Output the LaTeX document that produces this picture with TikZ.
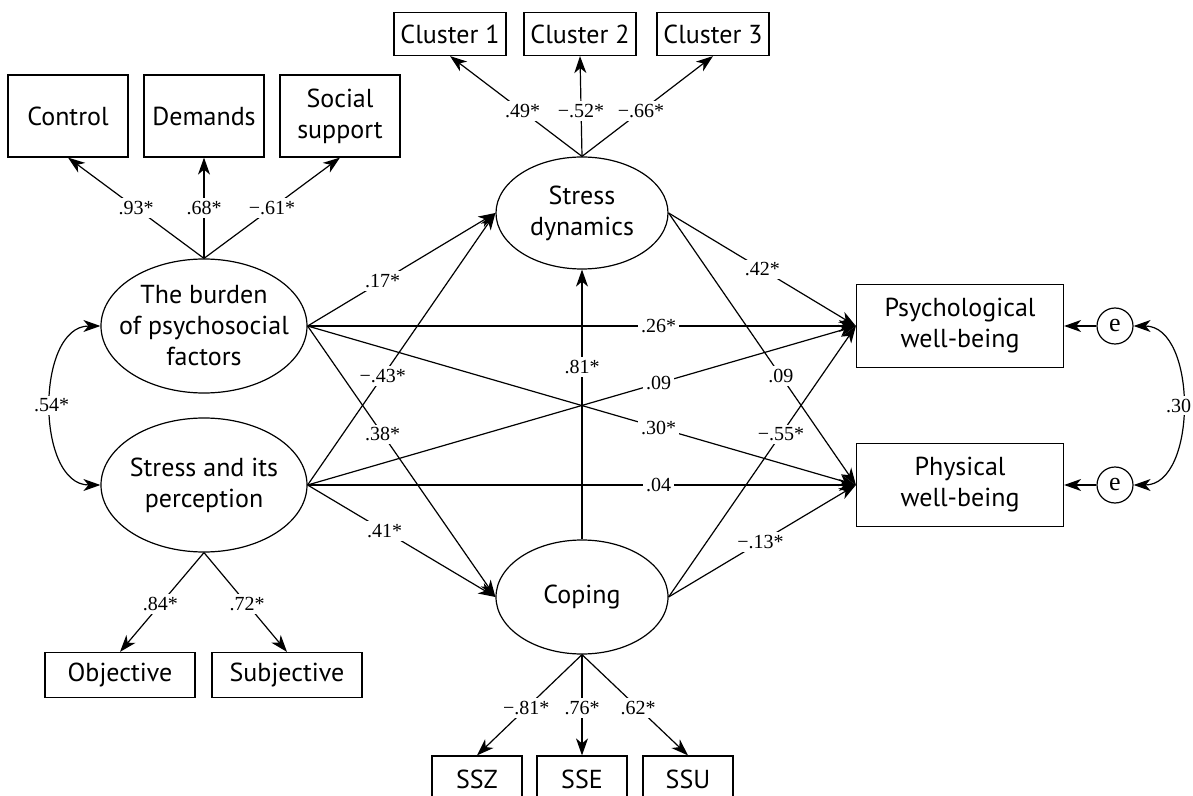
\documentclass[tikz,border=0pt]{standalone}
\usepackage{fontspec}
\setmainfont{PT Sans}
\newfontfamily\numfont{Liberation Serif}
\usetikzlibrary{shapes.geometric,arrows.meta}

\begin{document}
\begin{tikzpicture}[x=0.5pt,y=-0.5pt,line width=0.6pt,
		>={Stealth[length=8.5pt,width=6pt,inset=2.5pt]},
		obs/.style={draw,rectangle,align=center,inner sep=0pt,font=\fontsize{13}{15.5}\selectfont},
		lat/.style={draw,ellipse,align=center,inner sep=-20pt,font=\fontsize{13}{15.5}\selectfont},
		res/.style={draw,circle,minimum size=18pt,inner sep=0pt,font=\numfont\fontsize{13}{13}\selectfont},
		coef/.style={fill=white,inner sep=1.5pt,font=\numfont\fontsize{10}{10}\selectfont}]
		\useasboundingbox (0,0) rectangle (1193,796);

		% indicators
		\node (control) [obs,minimum width=60pt,minimum height=41pt] at (68,116) {Control};
		\node (demands) [obs,minimum width=60pt,minimum height=41pt] at (204,116) {Demands};
		\node (social) [obs,minimum width=60pt,minimum height=41pt] at (340,116) {Social\\support};
		\node (objective) [obs,minimum width=75pt,minimum height=22.5pt] at (120,675) {Objective};
		\node (subjective) [obs,minimum width=75pt,minimum height=22.5pt] at (287,675) {Subjective};
		\node (cl1) [obs,minimum width=56pt,minimum height=21.5pt] at (450,34) {Cluster 1};
		\node (cl2) [obs,minimum width=56pt,minimum height=21.5pt] at (580,34) {Cluster 2};
		\node (cl3) [obs,minimum width=56pt,minimum height=21.5pt] at (713,34) {Cluster 3};
		\node (ssz) [obs,minimum width=45pt,minimum height=23pt] at (477,779) {SSZ};
		\node (sse) [obs,minimum width=45pt,minimum height=23pt] at (582,779) {SSE};
		\node (ssu) [obs,minimum width=45pt,minimum height=23pt] at (688,779) {SSU};

		% latent variables
		\node (burden) [lat,minimum width=103pt,minimum height=67pt] at (204,326) {The burden\\of psychosocial\\factors};
		\node (stress) [lat,minimum width=103pt,minimum height=67pt] at (204,485) {Stress and its\\perception};
		\node (sd) [lat,minimum width=86pt,minimum height=56pt] at (582,213) {Stress\\dynamics};
		\node (coping) [lat,minimum width=86pt,minimum height=57pt] at (582,597) {Coping};

		% outcomes
		\node (psy) [obs,minimum width=103.5pt,minimum height=41.5pt] at (960,326) {Psychological\\well-being};
		\node (phy) [obs,minimum width=103.5pt,minimum height=41.5pt] at (960,485) {Physical\\well-being};
		\node (e1) [res] at (1115,326) {e};
		\node (e2) [res] at (1115,485) {e};

		% loadings
		\draw [->] (burden.north)--(control.south) node[coef,pos=.5] {.93*};
		\draw [->] (burden.north)--(demands.south) node[coef,pos=.5] {.68*};
		\draw [->] (burden.north)--(social.south) node[coef,pos=.5] {−.61*};
		\draw [->] (stress.south)--(objective.north) node[coef,pos=.52] {.84*};
		\draw [->] (stress.south)--(subjective.north) node[coef,pos=.52] {.72*};
		\draw [->] (sd.north)--(cl1.south) node[coef,pos=.45] {.49*};
		\draw [->] (sd.north)--(cl2.south) node[coef,pos=.45] {−.52*};
		\draw [->] (sd.north)--(cl3.south) node[coef,pos=.45] {−.66*};
		\draw [->] (coping.south)--(ssz.north) node[coef,pos=.53] {−.81*};
		\draw [->] (coping.south)--(sse.north) node[coef,pos=.53] {.76*};
		\draw [->] (coping.south)--(ssu.north) node[coef,pos=.53] {.62*};

		% structural paths
		\draw [->] (burden.east)--(sd.west) node[coef,pos=.4] {.17*};
		\draw [->] (burden.east)--(psy.west) node[coef,pos=.64] {.26*};
		\draw [->] (burden.east)--(phy.west) node[coef,pos=.64] {.30*};
		\draw [->] (burden.east)--(coping.west) node[coef,pos=.4] {.38*};
		\draw [->] (stress.east)--(sd.west) node[coef,pos=.4] {−.43*};
		\draw [->] (stress.east)--(psy.west) node[coef,pos=.64] {.09};
		\draw [->] (stress.east)--(phy.west) node[coef,pos=.64] {.04};
		\draw [->] (stress.east)--(coping.west) node[coef,pos=.41] {.41*};
		\draw [->] (coping.north)--(sd.south) node[coef,pos=.64] {.81*};
		\draw [->] (sd.east)--(psy.west) node[coef,pos=.5] {.42*};
		\draw [->] (sd.east)--(phy.west) node[coef,pos=.6] {.09};
		\draw [->] (coping.east)--(psy.west) node[coef,pos=.6] {−.55*};
		\draw [->] (coping.east)--(phy.west) node[coef,pos=.49] {−.13*};

		% residuals and covariances
		\draw [->] (e1)--(psy);
		\draw [->] (e2)--(phy);
		\draw [<->] (burden.west) .. controls +(-65,0) and +(-65,0) .. (stress.west) node[coef,pos=.5] {.54*};
		\draw [<->] (e1.east) .. controls +(64,0) and +(64,0) .. (e2.east) node[coef,pos=.5,inner xsep=0.5pt,xshift=-1.5pt] {.30};
	\end{tikzpicture}
\end{document}
